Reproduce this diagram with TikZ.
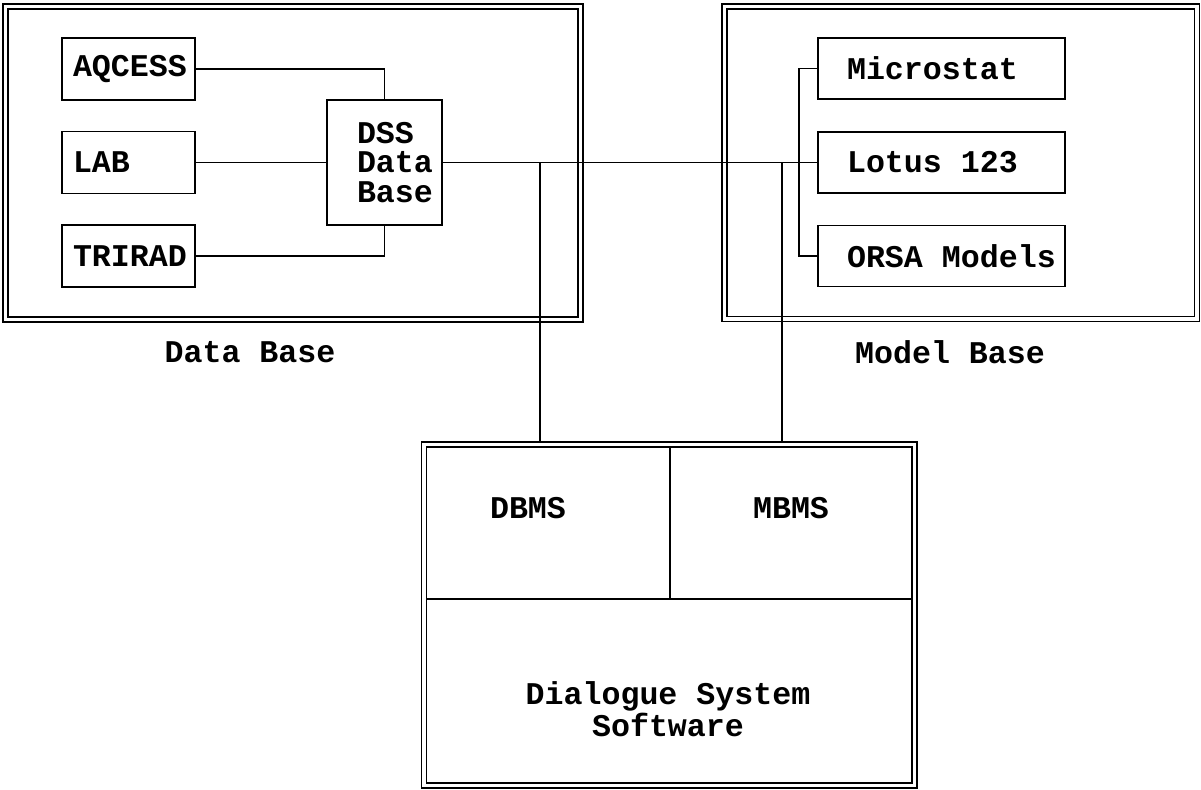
\documentclass[tikz,border=0pt]{standalone}
\usepackage{fontspec}
\setmainfont{Liberation Mono}
\usepackage{tikz}

\tikzset{
  base/.style={font=\bfseries\fontsize{18}{17}\selectfont},
  bigbox/.style={draw,double,double distance=2pt,line width=0.8pt,outer sep=1.8pt},
  smallbox/.style={draw,line width=0.8pt,align=flush left,outer sep=0pt,inner ysep=0pt}
}

\begin{document}
\begin{tikzpicture}[x=0.02cm,y=-0.02cm,line width=0.8pt,every node/.style={base}]
  \useasboundingbox (0,0) rectangle (1201,790);
  % frames
  \node[bigbox,minimum width=11.5cm,minimum height=6.26cm] (dbframe) at (293,163) {};
  \node[bigbox,minimum width=9.45cm,minimum height=6.25cm] (mbframe) at (960.75,162.75) {};
  \node[bigbox,minimum width=9.81cm,minimum height=6.82cm] (dlgframe) at (669.25,615) {};
  \draw (426,599) -- (912,599);
  \draw (670,447) -- (670,599);

  % data base side
  \node[smallbox,minimum width=2.66cm,minimum height=1.24cm,text width=2.22cm,inner xsep=0.22cm] (aqcess) at (128.5,69) {AQCESS};
  \node[smallbox,minimum width=2.66cm,minimum height=1.24cm,text width=2.22cm,inner xsep=0.22cm] (lab) at (128.5,162.5) {LAB};
  \node[smallbox,minimum width=2.66cm,minimum height=1.24cm,text width=2.22cm,inner xsep=0.22cm] (trirad) at (128.5,256) {TRIRAD};
  \node[smallbox,minimum width=2.3cm,minimum height=2.5cm,text width=1.1cm,inner xsep=0.6cm] (dss) at (384.5,162.5) {DSS\\Data\\Base};

  % model base side
  \node[smallbox,minimum width=4.94cm,minimum height=1.22cm,text width=3.78cm,inner xsep=0.58cm] (micro) at (941.5,68.5) {Microstat};
  \node[smallbox,minimum width=4.94cm,minimum height=1.22cm,text width=3.78cm,inner xsep=0.58cm] (lotus) at (941.5,162.5) {\mbox{Lotus 123}};
  \node[smallbox,minimum width=4.94cm,minimum height=1.22cm,text width=3.78cm,inner xsep=0.58cm] (orsa) at (941.5,256) {\mbox{ORSA Models}};

  % labels
  \node (dblabel) at (250,352) {Data Base};
  \node (mblabel) at (950,352) {Model Base};
  \node (dbms) at (528,508) {DBMS};
  \node (mbms) at (791,508) {MBMS};
  \node[align=center] (dlg) at (668,709.5) {Dialogue System\\Software};

  % connections
  \draw (aqcess.east) -| (dss.north);
  \draw (lab) -- (dss);
  \draw (trirad.east) -| (dss.south);
  \draw (dss.east) -- (lotus.west);
  \draw (micro.west) -- ++(-19,0) |- (orsa.west);
  \coordinate (tapdb) at (540,162.5);
  \coordinate (tapmb) at (782,162.5);
  \draw (tapdb) -- (tapdb |- dlgframe.north);
  \draw (tapmb) -- (tapmb |- dlgframe.north);
\end{tikzpicture}
\end{document}
